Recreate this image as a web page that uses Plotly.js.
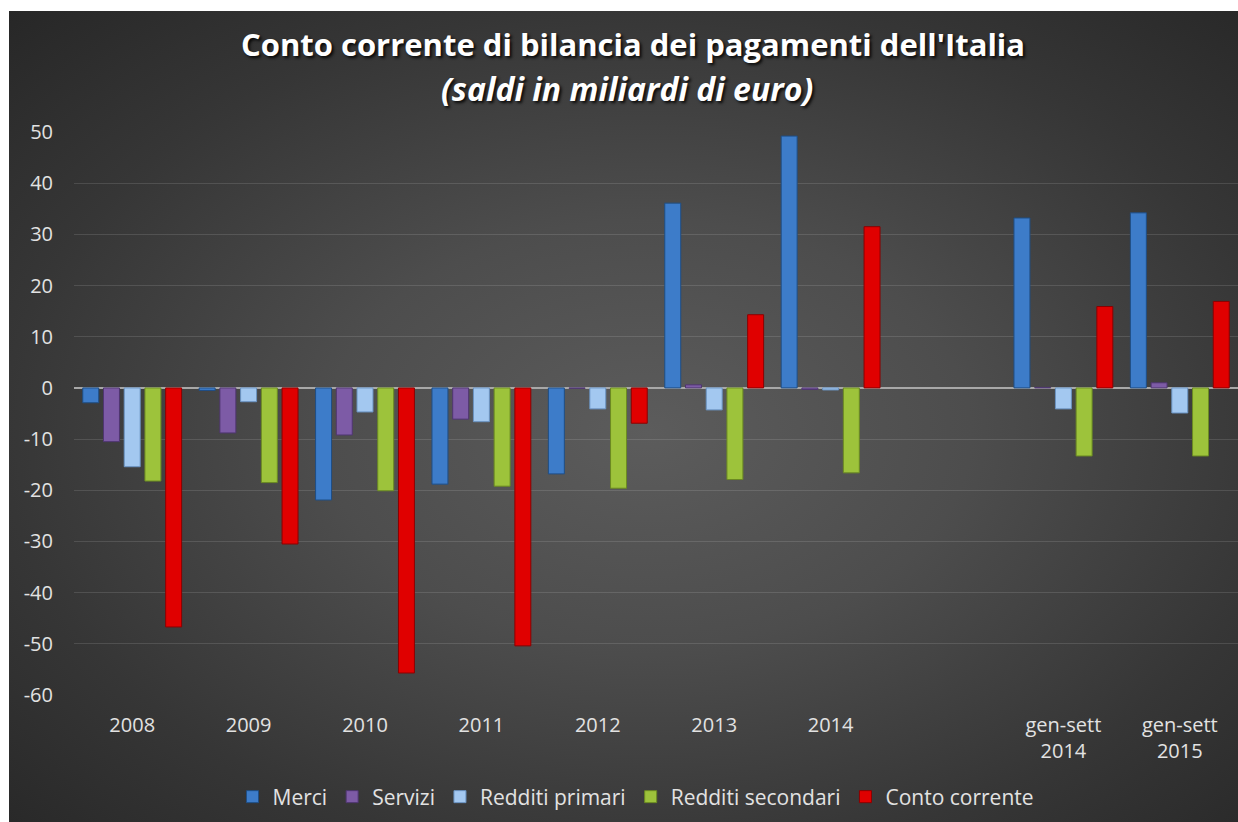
<!DOCTYPE html>
<html>
<head>
<meta charset="utf-8">
<script src="https://cdn.plot.ly/plotly-3.0.1.min.js"></script>
<style>
  html, body { margin:0; padding:0; background:#ffffff; }
  #wrap { position:relative; width:1238px; height:822px; overflow:hidden; background:#ffffff; }
  #bg { position:absolute; left:9px; top:11px; width:1229px; height:811px;
        background: radial-gradient(ellipse 75% 75% at 52% 52%, #5c5c5c 0%, #4d4d4d 35%, #363636 70%, #262626 100%); }
  #chart { position:absolute; left:0; top:0; width:1238px; height:822px; }
  .gtitle, .annotation-text { text-shadow: 2px 2px 3px rgba(0,0,0,0.85); }
</style>
</head>
<body>
<div id="wrap"><div id="bg"></div><div id="chart"></div></div>
<script>
const categories = ["2008","2009","2010","2011","2012","2013","2014"," ","gen-sett<br>2014","gen-sett<br>2015"];
const merci            = [-2.9, -0.5, -21.9, -18.8, -16.8, 36.1, 49.2, null, 33.2, 34.2];
const servizi          = [-10.5, -8.8, -9.2, -6.1, -0.1, 0.6, -0.3, null, 0.1, 1.0];
const redditiPrimari   = [-15.4, -2.7, -4.7, -6.6, -4.1, -4.3, -0.4, null, -4.1, -4.9];
const redditiSecondari = [-18.2, -18.5, -20.1, -19.2, -19.6, -17.9, -16.6, null, -13.3, -13.3];
const contoCorrente    = [-46.7, -30.5, -55.7, -50.4, -6.9, 14.3, 31.5, null, 15.9, 16.9];
const yTicks = [-60,-50,-40,-30,-20,-10,0,10,20,30,40,50];

const seriesNames = ["Merci","Servizi","Redditi primari","Redditi secondari","Conto corrente"];
const seriesData = [merci, servizi, redditiPrimari, redditiSecondari, contoCorrente];
const fills = ["#3d7cc9","#7d5ba6","#a3c8f0","#9dc33b","#e00000"];
const lines = ["#1f4e85","#4f3670","#6a93c2","#6b8a22","#8c0000"];

const traces = seriesNames.map((n,i)=>({
  type:'bar', name:n, x:categories, y:seriesData[i],
  marker:{color:fills[i], line:{color:lines[i], width:1}},
  hoverinfo:'x+y+name'
}));

const txt = '#e2e2e2';
const layout = {
  width:1238, height:822,
  paper_bgcolor:'rgba(0,0,0,0)', plot_bgcolor:'rgba(0,0,0,0)',
  margin:{l:74, r:0, t:132, b:127},
  barmode:'group', bargap:0.11, bargroupgap:0.23,
  font:{family:'Open Sans, sans-serif', color:txt, size:20},
  title:{text:"<b>Conto corrente di bilancia dei pagamenti dell'Italia</b>",
         x:(633/1238), xanchor:'center', y:1-45/822, yanchor:'middle', yref:'container',
         font:{family:'Open Sans, sans-serif', size:31, color:'#ffffff'}},
  annotations:[{text:"<b><i>(saldi in miliardi di euro)</i></b>", xref:'paper', yref:'paper',
         x:(627-74)/1164, xanchor:'center', y:(695-88)/(695-132), yanchor:'middle',
         showarrow:false, font:{family:'Open Sans, sans-serif', size:32, color:'#ffffff'}}],
  xaxis:{type:'category', range:[-0.5,9.5], showgrid:false, zeroline:false, showline:false,
         ticks:'', tickfont:{color:txt, size:20}, ticklabelstandoff:16, fixedrange:true},
  yaxis:{range:[-60,50], tickvals:yTicks, ticktext:yTicks.map(String), showgrid:true,
         gridcolor:'rgba(255,255,255,0.12)', gridwidth:1,
         zeroline:true, zerolinecolor:'#a8a8a8', zerolinewidth:1.5, showline:false,
         ticks:'', tickfont:{color:txt, size:20}, ticklabelstandoff:20, fixedrange:true},
  showlegend:true,
  legend:{orientation:'h', x:(636-74)/1164, xanchor:'center', y:-(797-695)/(695-132), yanchor:'middle',
          font:{color:txt, size:21}, bgcolor:'rgba(0,0,0,0)', itemwidth:30, traceorder:'normal'}
};
Plotly.newPlot('chart', traces, layout, {displayModeBar:false, staticPlot:true});
</script>
</body>
</html>
